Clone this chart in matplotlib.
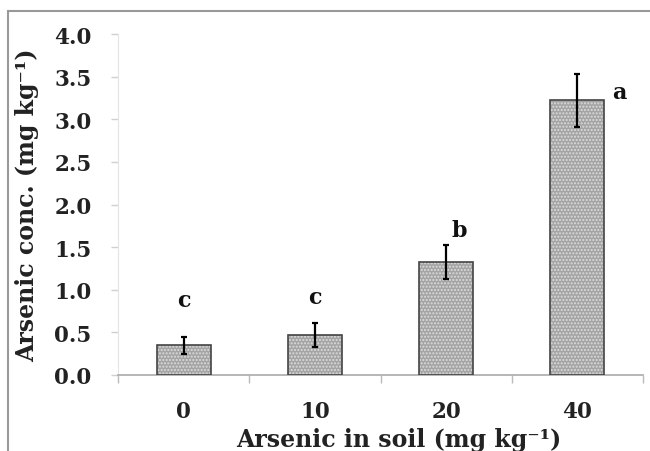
import matplotlib
matplotlib.use("Agg")
import matplotlib.pyplot as plt
from matplotlib.patches import Rectangle

categories = ["0", "10", "20", "40"]
values = [0.35, 0.47, 1.33, 3.22]
errors = [0.10, 0.14, 0.20, 0.31]
letters = ["c", "c", "b", "a"]
letter_y = [0.88, 0.92, 1.70, 3.32]
letter_dx = [0.0, 0.0, 0.10, 0.32]
yticks = [0.0, 0.5, 1.0, 1.5, 2.0, 2.5, 3.0, 3.5, 4.0]

plt.rcParams['font.family'] = ['DejaVu Serif']
plt.rcParams['font.weight'] = 'bold'

fig = plt.figure(figsize=(6.5, 4.52), dpi=100)
ax = fig.add_axes([118/650, 1-376/452, (643-118)/650, (376-35)/452])

x = list(range(len(categories)))
ax.bar(x, values, width=0.41, color='#a4a4a4', hatch='.....', edgecolor='#dcdcdc', linewidth=0, zorder=2)
ax.bar(x, values, width=0.41, fill=False, edgecolor='#444444', linewidth=1.2, zorder=3)
ax.errorbar(x, values, yerr=errors, fmt='none', ecolor='black', elinewidth=1.6, capsize=2.5, capthick=1.6, zorder=4)
for xi, l, ly, dx in zip(x, letters, letter_y, letter_dx):
    ax.text(xi + dx, ly, l, ha='center', va='center', fontsize=16, fontweight='bold', color='#111111')

ax.set_xlim(-0.5, 3.5)
ax.set_ylim(0, 4.0)
ax.set_yticks(yticks)
ax.set_yticklabels([f"{t:.1f}" for t in yticks], fontsize=15.5, fontweight='bold', color='#222222')
ax.set_xticks(x)
ax.set_xticklabels(categories, fontsize=15.5, fontweight='bold', color='#222222')
ax.tick_params(axis='x', length=0, pad=18)
ax.set_xticks([-0.5, 0.5, 1.5, 2.5, 3.5], minor=True)
ax.tick_params(axis='x', which='minor', length=6, color='#bbbbbb', width=1)
ax.tick_params(axis='y', length=5, color='#d0d0d0', width=1, pad=14)

for s in ['top', 'right']:
    ax.spines[s].set_visible(False)
ax.spines['left'].set_color('#e4e4e4')
ax.spines['bottom'].set_color('#aaaaaa')
ax.spines['bottom'].set_linewidth(1.2)

ax.set_ylabel("Arsenic conc. (mg kg\u207b\u00b9)", fontsize=17, fontweight='bold', color='#222222')
ax.set_xlabel("Arsenic in soil (mg kg\u207b\u00b9)", fontsize=17, fontweight='bold', color='#222222')
ax.yaxis.set_label_coords(-0.150, 0.5)
ax.xaxis.set_label_coords(0.535, -0.152)

fig.patches.append(Rectangle((8/650, -0.1), 1.2, 1 - 12/452 + 0.1, transform=fig.transFigure,
                             fill=False, edgecolor='#999999', linewidth=1.5))

fig.savefig("out.png", dpi=100)
